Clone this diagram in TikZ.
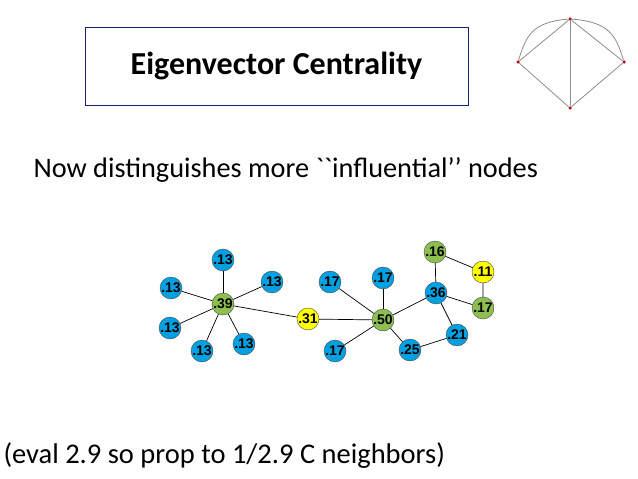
\documentclass[tikz,border=0pt]{standalone}
\usepackage{fontspec}
\setmainfont{Carlito}
\newfontfamily\arialfont{Liberation Sans}
\definecolor{nodeblue}{RGB}{0,160,225}
\definecolor{nodegreen}{RGB}{140,190,80}
\definecolor{nodeyellow}{RGB}{255,255,0}
\definecolor{boxblue}{RGB}{30,30,110}
\tikzset{
	vtx/.style={circle, draw=black!70, inner sep=0pt, minimum size=22pt,
		font=\arialfont\bfseries\fontsize{14}{14}\selectfont},
	blue/.style={vtx, fill=nodeblue},
	green/.style={vtx, fill=nodegreen},
	yellow/.style={vtx, fill=nodeyellow},
	dot/.style={circle, fill=red!75!black, inner sep=0pt, minimum size=3.5pt}
}
\begin{document}
\begin{tikzpicture}[x=1pt, y=-1pt]
	\useasboundingbox (0,0) rectangle (638,479);
	
	%titolo
	\node[draw=boxblue, minimum width=383pt, minimum height=78pt,
		font=\bfseries\fontsize{32}{32}\selectfont] (title) at (276.5,66) {Eigenvector Centrality};
	\node[anchor=west, font=\fontsize{28.3}{28.3}\selectfont] (sub) at (30,170)
		{Now distinguishes more \textasciigrave\textasciigrave influential’’ nodes};
	\node[anchor=west, font=\fontsize{28.5}{28.5}\selectfont] (note) at (0,456)
		{(eval 2.9 so prop to 1/2.9 C neighbors)};
	
	%piccolo grafo
	\node[dot] (pt) at (570,19) {};
	\node[dot] (pl) at (518,62) {};
	\node[dot] (pr) at (624,62) {};
	\node[dot] (pb) at (570,108) {};
	\begin{scope}[black!45, line width=0.8pt]
		\draw (pl) -- (pt) -- (pr) -- (pb) -- (pl);
		\draw (pt) -- (pb);
		\draw (pl) .. controls (526,36) and (532,22) .. (pt);
		\draw (pr) .. controls (616,36) and (610,22) .. (pt);
	\end{scope}
	
	%grafo
	\node[green] (c39) at (223,304) {.39};
	\node[blue] (a1) at (223,260) {.13};
	\node[blue] (a2) at (171,288) {.13};
	\node[blue] (a3) at (272,282) {.13};
	\node[blue] (a4) at (170,328) {.13};
	\node[blue] (a5) at (202,351) {.13};
	\node[blue] (a6) at (244,344) {.13};
	\node[yellow] (c31) at (308,319) {.31};
	\node[green] (c50) at (383,320) {.50};
	\node[blue] (b1) at (330,282) {.17};
	\node[blue] (b2) at (383,278) {.17};
	\node[blue] (b3) at (335,351) {.17};
	\node[blue] (c25) at (410,350) {.25};
	\node[blue] (c21) at (457,335) {.21};
	\node[blue] (c36) at (436,293) {.36};
	\node[green] (c16) at (435,252) {.16};
	\node[yellow] (c11) at (483,272) {.11};
	\node[green] (d17) at (483,308) {.17};
	
	\begin{scope}[line width=0.7pt]
	\foreach \n in {a1,a2,a3,a4,a5,a6,c31}
		\draw (c39) -- (\n);
	\foreach \n in {c31,b1,b2,b3,c25,c36}
		\draw (c50) -- (\n);
	\draw (c36) -- (c16);
	\draw (c36) -- (d17);
	\draw (c36) -- (c21) -- (c25);
	\draw (c16) -- (c11) -- (d17);
	\end{scope}
\end{tikzpicture}
\end{document}
